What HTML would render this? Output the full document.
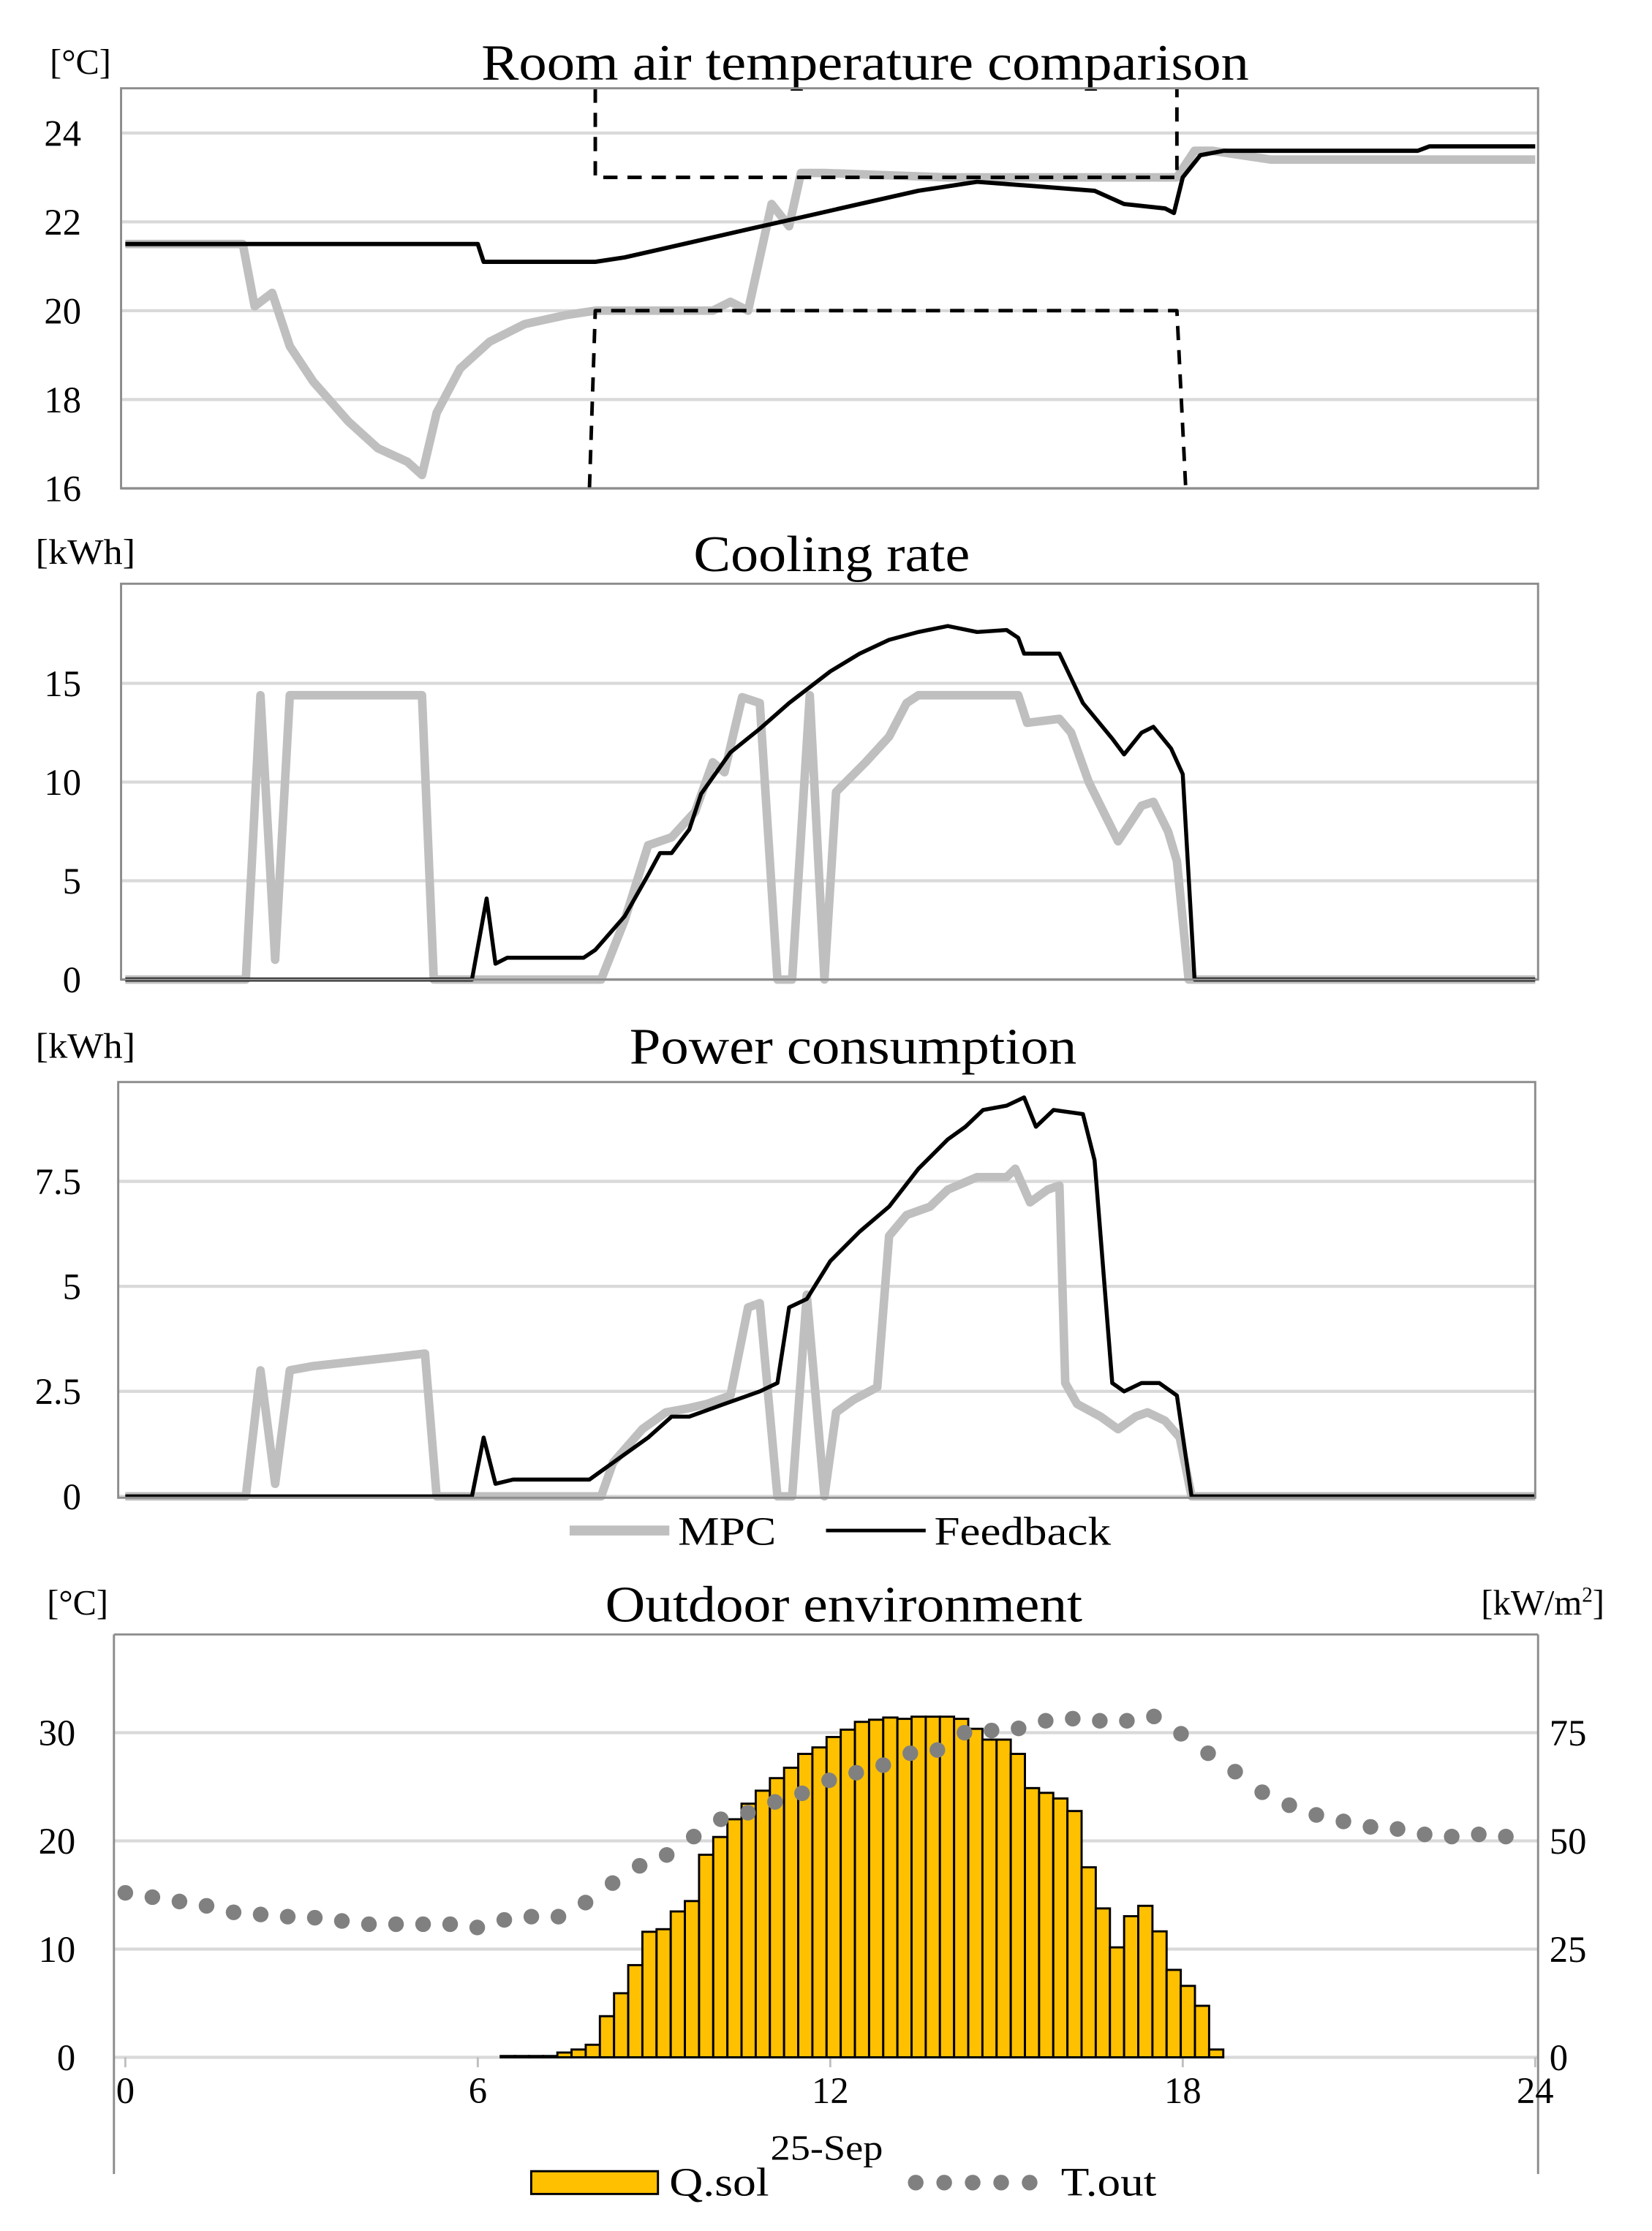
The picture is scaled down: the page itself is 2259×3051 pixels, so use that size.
<!DOCTYPE html>
<html><head><meta charset="utf-8">
<style>
html,body{margin:0;padding:0;background:#fff;}
svg{display:block;}
text{font-family:"Liberation Serif",serif;fill:#000;}
</style></head>
<body>
<svg id="chart" xmlns="http://www.w3.org/2000/svg" width="2259" height="3051" viewBox="0 0 1160 1567" preserveAspectRatio="none">
  <g>
    <text x="35" y="52" font-size="25" textLength="43" lengthAdjust="spacingAndGlyphs">[°C]</text>
    <text x="338" y="56" font-size="36" textLength="539" lengthAdjust="spacingAndGlyphs">Room air temperature comparison</text>
    <g id="p1"></g>
  </g>
  <g>
    <text x="25" y="396" font-size="25" textLength="70" lengthAdjust="spacingAndGlyphs">[kWh]</text>
    <text x="487" y="401" font-size="36" textLength="194" lengthAdjust="spacingAndGlyphs">Cooling rate</text>
    <g id="p2"></g>
  </g>
  <g>
    <text x="25" y="743" font-size="25" textLength="70" lengthAdjust="spacingAndGlyphs">[kWh]</text>
    <text x="442" y="747" font-size="36" textLength="314" lengthAdjust="spacingAndGlyphs">Power consumption</text>
    <g id="p3"></g>
  </g>
  <g>
    <line x1="400" y1="1075" x2="470" y2="1075" stroke="#bfbfbf" stroke-width="7"/>
    <text x="476" y="1085" font-size="28" textLength="69" lengthAdjust="spacingAndGlyphs">MPC</text>
    <line x1="580" y1="1075" x2="650" y2="1075" stroke="#000" stroke-width="2.5"/>
    <text x="656" y="1085" font-size="28" textLength="124" lengthAdjust="spacingAndGlyphs">Feedback</text>
  </g>
  <g>
    <text x="33" y="1134" font-size="25" textLength="43" lengthAdjust="spacingAndGlyphs">[°C]</text>
    <text x="1040" y="1134" font-size="25">[kW/m<tspan font-size="15" dy="-9">2</tspan><tspan dy="9">]</tspan></text>
    <text x="425" y="1139" font-size="36" textLength="335" lengthAdjust="spacingAndGlyphs">Outdoor environment</text>
    <g id="p4"></g>
    <text x="541" y="1517" font-size="25" textLength="79" lengthAdjust="spacingAndGlyphs">25-Sep</text>
    <rect x="373" y="1525" width="89" height="16" fill="#ffc000" stroke="#000" stroke-width="1.5"/>
    <text x="470" y="1542" font-size="28" textLength="70" lengthAdjust="spacingAndGlyphs">Q.sol</text>
    <g id="tdots"></g>
    <text x="745" y="1542" font-size="28" textLength="67" lengthAdjust="spacingAndGlyphs">T.out</text>
  </g>
</svg>
<script>
// ---------- data ----------
const tempTicks = [16, 18, 20, 22, 24];
const tempMpcT = [0,2,2.2,2.5,2.8,3.2,3.8,4.3,4.8,5.05,5.3,5.7,6.2,6.8,7.5,8,10,10.3,10.6,11.0,11.3,11.5,11.9,14,17.9,18.2,18.5,19.5,24];
const tempMpcV = [21.5,21.5,20.1,20.4,19.2,18.4,17.5,16.9,16.6,16.3,17.7,18.7,19.3,19.7,19.9,20.0,20.0,20.2,20.0,22.4,21.9,23.1,23.1,23.0,23.0,23.6,23.6,23.4,23.4];
const tempFbT = [0,6,6.1,8,8.5,9.5,10.5,11.5,12.5,13.5,14.5,15.5,16.5,17,17.7,17.85,18,18.3,18.7,22,22.2,24];
const tempFbV = [21.5,21.5,21.1,21.1,21.2,21.5,21.8,22.1,22.4,22.7,22.9,22.8,22.7,22.4,22.3,22.2,23.0,23.5,23.6,23.6,23.7,23.7];
const upperBoundT = [8,8,17.9,17.9];
const upperBoundV = [25,23,23,25];
const lowerBoundT = [7.9,8,17.9,18.05];
const lowerBoundV = [16,20,20,16];

const coolTicks = [0, 5, 10, 15];
const coolMpcT = [0,2.05,2.3,2.55,2.8,5.05,5.25,8.1,8.5,8.9,9.3,9.7,10.0,10.2,10.5,10.8,11.1,11.35,11.65,11.9,12.1,12.6,13.0,13.3,13.5,15.2,15.35,15.9,16.1,16.4,16.9,17.3,17.5,17.75,17.9,18.1,24];
const coolMpcV = [0,0,14.4,1,14.4,14.4,0,0,3,6.8,7.2,8.5,11,10.5,14.3,14,0,0,14.4,0,9.5,11,12.3,14,14.4,14.4,13,13.2,12.5,10,7,8.8,9,7.5,6,0,0];
const coolFbT = [0,5.9,6.15,6.3,6.5,7.8,8.0,8.5,8.9,9.1,9.3,9.6,9.8,10.3,10.8,11.3,12,12.5,13,13.5,14,14.5,15,15.2,15.3,15.9,16.3,16.8,17.0,17.3,17.5,17.8,18.0,18.2,24];
const coolFbV = [0,0,4.1,0.8,1.1,1.1,1.5,3.2,5.3,6.4,6.4,7.6,9.4,11.5,12.7,14,15.6,16.5,17.2,17.6,17.9,17.6,17.7,17.3,16.5,16.5,14,12.2,11.4,12.5,12.8,11.7,10.4,0,0];

const powTicks = [0, 2.5, 5, 7.5];
const powTickLabels = ['0','2.5','5','7.5'];
const powMpcT = [0,2.05,2.3,2.55,2.8,3.2,4.5,5.1,5.3,8.1,8.3,8.8,9.2,9.6,9.9,10.3,10.6,10.8,11.1,11.35,11.6,11.9,12.1,12.4,12.8,13.0,13.3,13.7,14.0,14.5,15.0,15.15,15.4,15.7,15.9,16.0,16.2,16.6,16.9,17.2,17.4,17.7,17.95,18.15,24];
const powMpcV = [0,0,3.0,0.3,3.0,3.1,3.3,3.4,0,0,0.8,1.6,2.0,2.1,2.2,2.4,4.5,4.6,0,0,4.8,0,2.0,2.3,2.6,6.2,6.7,6.9,7.3,7.6,7.6,7.8,7.0,7.3,7.4,2.7,2.2,1.9,1.6,1.9,2.0,1.8,1.4,0,0];
const powFbT = [0,5.9,6.1,6.3,6.6,7.9,8.1,8.5,8.9,9.3,9.6,10.2,10.8,11.1,11.3,11.6,12,12.5,13,13.5,14,14.3,14.6,15,15.3,15.5,15.8,16.3,16.5,16.8,17.0,17.3,17.6,17.9,18.15,24];
const powFbV = [0,0,1.4,0.3,0.4,0.4,0.6,1.0,1.4,1.9,1.9,2.2,2.5,2.7,4.5,4.7,5.6,6.3,6.9,7.8,8.5,8.8,9.2,9.3,9.5,8.8,9.2,9.1,8.0,2.7,2.5,2.7,2.7,2.4,0,0];

const outLeftTicks = [0, 10, 20, 30];
const outRightTicks = [0, 25, 50, 75];
const hourTicks = [0, 6, 12, 18, 24];
const qsol = [0.3,0.3,0.3,0.3,1.1,1.8,2.9,9.5,14.8,21.3,29.0,29.6,33.7,36.1,46.8,50.9,55.0,58.6,61.6,64.5,66.9,70.1,71.6,74.0,75.7,77.5,78.0,78.5,78.2,78.7,78.7,78.7,78.2,75.9,73.4,73.4,70.1,62.2,61.1,59.8,56.9,43.9,34.4,25.4,32.6,35.0,29.1,20.2,16.5,11.9,1.8];
const tout = [15.2,14.8,14.4,14.0,13.4,13.2,13.0,12.9,12.6,12.3,12.3,12.3,12.3,12.0,12.7,13.0,13.0,14.3,16.1,17.7,18.7,20.4,22.0,22.6,23.6,24.4,25.6,26.3,27.0,28.1,28.4,30.0,30.2,30.4,31.1,31.3,31.1,31.1,31.5,29.9,28.1,26.4,24.5,23.3,22.4,21.8,21.3,21.1,20.6,20.4,20.6,20.4];

// ---------- helpers ----------
const NS = 'http://www.w3.org/2000/svg';
function mk(parent, tag, attrs){ const e=document.createElementNS(NS,tag); for(const k in attrs) e.setAttribute(k,attrs[k]); parent.appendChild(e); return e; }
const xs = t => 88 + t*41.25;
const BAR_START = 6.39, BAR_END = 18.69, TOUT_END = 23.5;

function frame(g, x0, y0, x1, y1, name){
  const r = mk(g,'rect',{x:x0,y:y0,width:x1-x0,height:y1-y0,fill:'none',stroke:'#8c8c8c','stroke-width':1.5});
  
  
}
function grid(g, ticks, labels, ys, x0, x1, lx, name, anchor){
  ticks.forEach((v,i)=>{
    const l = mk(g,'line',{x1:x0,x2:x1,y1:ys(v),y2:ys(v),stroke:'#d9d9d9','stroke-width':2.2});
    
    
    const t = mk(g,'text',{x:lx,y:ys(v)+9,'font-size':26,'text-anchor':anchor||'end'});
    t.textContent = labels ? labels[i] : String(v);
    
    
  });
}
function line(g, T, V, ys, color, w, name, dash){
  const d = T.map((t,i)=>(i?'L':'M')+xs(t).toFixed(1)+' '+ys(V[i]).toFixed(1)).join(' ');
  const p = mk(g,'path',{d:d,fill:'none',stroke:color,'stroke-width':w,'stroke-linejoin':'round'});
  if(dash) p.setAttribute('stroke-dasharray', dash);
  
  
}

// panel 1
(function(){
  const g=document.getElementById('p1'); const ys=v=>343-(v-16)*31.2;
  grid(g,tempTicks,null,ys,85,1080,57,'room-temp-y');
  line(g,tempMpcT,tempMpcV,ys,'#bfbfbf',6,'room-temp-mpc-line');
  line(g,tempFbT,tempFbV,ys,'#000',3,'room-temp-feedback-line');
  line(g,upperBoundT,upperBoundV,ys,'#000',2.5,'upper-setpoint-line','10,7');
  line(g,lowerBoundT,lowerBoundV,ys,'#000',2.5,'lower-setpoint-line','10,7');
  frame(g,85,62,1080,343,'room-temp-frame');
})();
// panel 2
(function(){
  const g=document.getElementById('p2'); const ys=v=>688-v*13.87;
  grid(g,coolTicks,null,ys,85,1080,57,'cooling-y');
  line(g,coolMpcT,coolMpcV,ys,'#bfbfbf',6,'cooling-mpc-line');
  line(g,coolFbT,coolFbV,ys,'#000',2.8,'cooling-feedback-line');
  frame(g,85,410,1080,688,'cooling-frame');
})();
// panel 3
(function(){
  const g=document.getElementById('p3'); const ys=v=>1051-v*29.5;
  grid(g,powTicks,powTickLabels,ys,83,1078,57,'power-y');
  line(g,powMpcT,powMpcV,ys,'#bfbfbf',6,'power-mpc-line');
  line(g,powFbT,powFbV,ys,'#000',2.8,'power-feedback-line');
  frame(g,83,760,1078,1052,'power-frame');
})();
// panel 4
(function(){
  const g=document.getElementById('p4');
  const ysL=v=>1445-v*7.6, ysR=v=>1445-v*3.04;
  grid(g,outLeftTicks,null,ysL,80,1080,53,'outdoor-left-y');
  outRightTicks.forEach(v=>{
    const t=mk(g,'text',{x:1088,y:ysR(v)+9,'font-size':26});
    t.textContent=String(v);
    
    
  });
  ['M80 1148 L1080 1148','M80 1148 L80 1527','M1080 1148 L1080 1527'].forEach(d=>{
    const p=mk(g,'path',{d:d,stroke:'#8c8c8c','stroke-width':1.5,fill:'none'});
    
    
  });
  hourTicks.forEach(h=>{
    const t=mk(g,'text',{x:xs(h),y:1477,'font-size':26,'text-anchor':'middle'});
    t.textContent=String(h);
    
    
    const tk=mk(g,'line',{x1:xs(h),x2:xs(h),y1:1445,y2:1452,stroke:'#bfbfbf','stroke-width':1.5});
    
    
  });
  const step=(BAR_END-BAR_START)/qsol.length;
  qsol.forEach((v,i)=>{
    const x0=xs(BAR_START+i*step), x1=xs(BAR_START+(i+1)*step);
    const r=mk(g,'rect',{x:x0,y:ysR(v),width:x1-x0,height:1445-ysR(v),fill:'#ffc000',stroke:'#000','stroke-width':1.5});
    
    
  });
  const tstep=TOUT_END/(tout.length-1);
  tout.forEach((v,i)=>{
    const c=mk(g,'circle',{cx:xs(i*tstep),cy:ysL(v),r:5.5,fill:'#808080'});
    
    
  });
  const lg=document.getElementById('tdots');
  for(let i=0;i<5;i++){
    const c=mk(lg,'circle',{cx:643+i*20,cy:1533,r:5.5,fill:'#808080'});
    
    
  }
})();
</script>
</body></html>
